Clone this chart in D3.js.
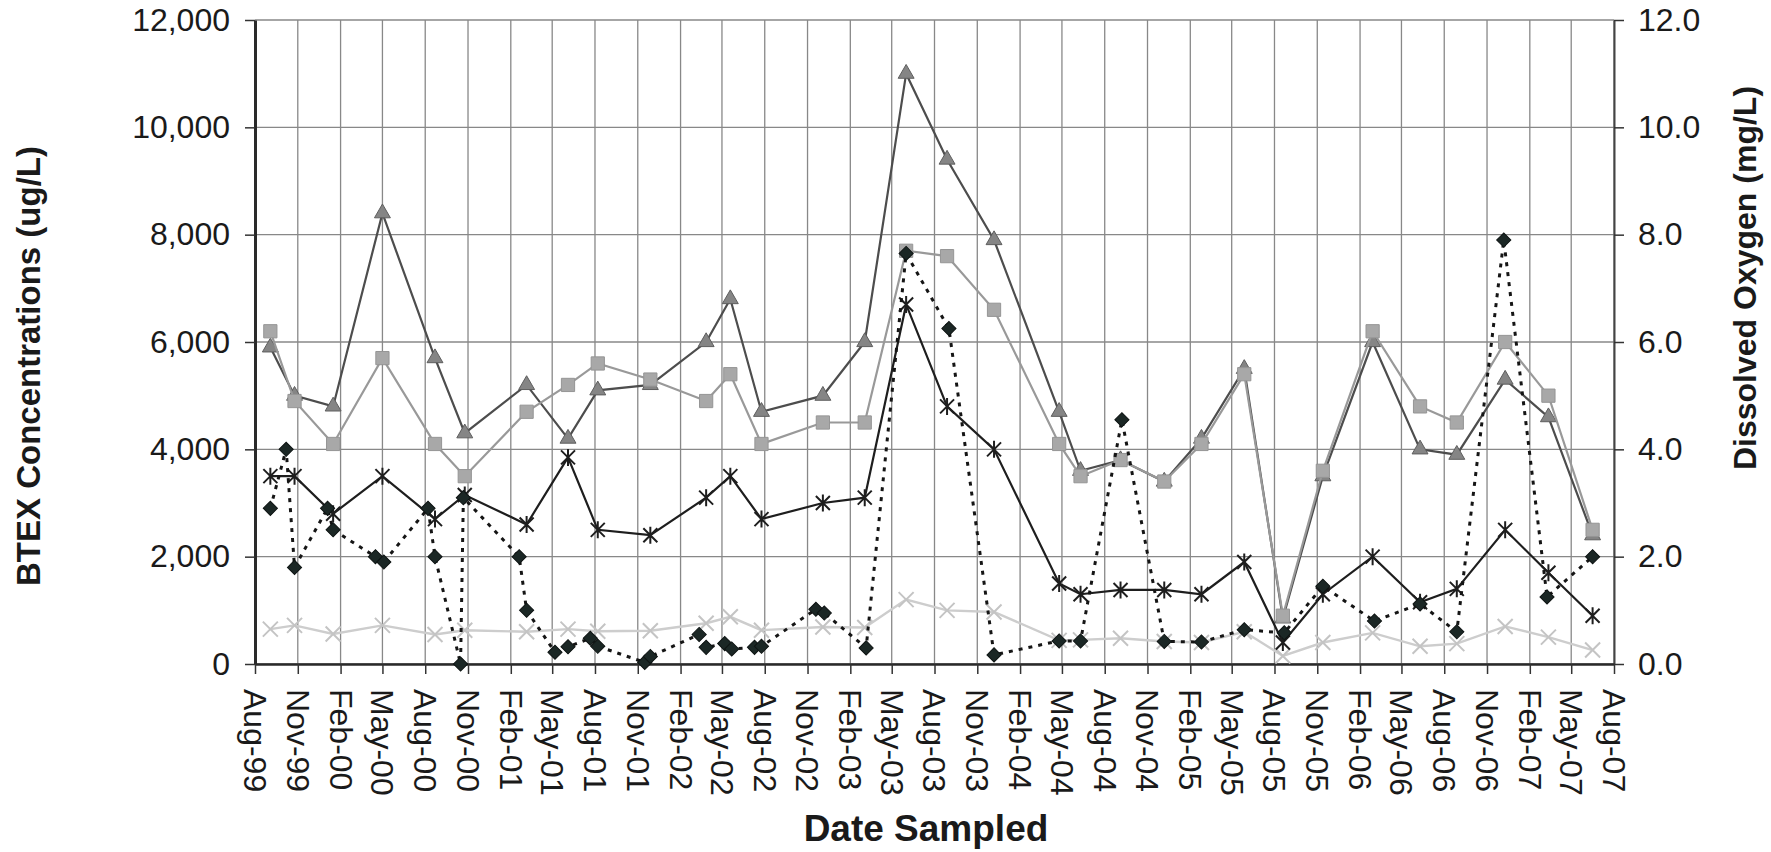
<!DOCTYPE html>
<html>
<head>
<meta charset="utf-8">
<script src="https://cdn.jsdelivr.net/npm/d3@7"></script>
<style>
  body { margin: 0; background: #fff; }
  svg { display: block; font-family: Arial, "Liberation Sans", sans-serif; }
</style>
</head>
<body>
<svg width="1771" height="852"></svg>
<script>
// sampling events for the four BTEX wells
const btexDates = [
    "1999-09-03", "1999-10-25", "2000-01-16", "2000-05-01", "2000-08-22", "2000-10-25",
    "2001-03-07", "2001-06-04", "2001-08-07", "2001-11-28", "2002-03-28", "2002-05-19",
    "2002-07-25", "2002-12-04", "2003-03-04", "2003-06-01", "2003-08-28", "2003-12-07",
    "2004-04-25", "2004-06-10", "2004-09-04", "2004-12-07", "2005-02-25", "2005-05-28",
    "2005-08-19", "2005-11-13", "2006-02-28", "2006-06-10", "2006-08-28", "2006-12-10",
    "2007-03-13", "2007-06-16"
];
const triangleValues = [
    5900, 5000, 4800, 8400, 5700, 4300, 5200, 4200, 5100, 5200, 6000, 6800,
    4700, 5000, 6000, 11000, 9400, 7900, 4700, 3600, 3800, 3400, 4200, 5500,
    850, 3500, 6000, 4000, 3900, 5300, 4600, 2400
];
const squareValues = [
    6200, 4900, 4100, 5700, 4100, 3500, 4700, 5200, 5600, 5300, 4900, 5400,
    4100, 4500, 4500, 7700, 7600, 6600, 4100, 3500, 3800, 3400, 4100, 5400,
    900, 3600, 6200, 4800, 4500, 6000, 5000, 2500
];
const starValues = [
    3500, 3500, 2800, 3500, 2700, 3150, 2600, 3850, 2500, 2400, 3100, 3500,
    2700, 3000, 3100, 6700, 4800, 4000, 1500, 1300, 1380, 1380, 1300, 1900,
    400, 1300, 2000, 1150, 1400, 2500, 1700, 900
];
const crossValues = [
    650, 720, 560, 720, 550, 630, 600, 650, 610, 620, 760, 880,
    630, 690, 680, 1200, 1000, 970, 440, 450, 480, 420, 400, 600,
    150, 400, 580, 330, 380, 700, 500, 260
];

// dissolved oxygen (right axis)
const doDates = [
    "1999-09-03", "1999-10-07", "1999-10-25", "2000-01-04", "2000-01-16", "2000-04-16",
    "2000-05-04", "2000-08-07", "2000-08-22", "2000-10-16", "2000-10-22", "2001-02-19",
    "2001-03-07", "2001-05-07", "2001-06-04", "2001-07-22", "2001-08-07", "2001-11-16",
    "2001-11-28", "2002-03-13", "2002-03-28", "2002-05-07", "2002-05-22", "2002-07-10",
    "2002-07-25", "2002-11-19", "2002-12-07", "2003-03-07", "2003-06-01", "2003-09-01",
    "2003-12-07", "2004-04-25", "2004-06-10", "2004-09-07", "2004-12-07", "2005-02-25",
    "2005-05-28", "2005-08-22", "2005-11-13", "2006-03-04", "2006-06-10", "2006-08-28",
    "2006-12-07", "2007-03-10", "2007-06-16"
];
const doValues = [
    2.9, 4.0, 1.8, 2.9, 2.5, 2.0,
    1.9, 2.9, 2.0, 0.0, 3.1, 2.0,
    1.0, 0.22, 0.32, 0.48, 0.33, 0.03,
    0.14, 0.55, 0.31, 0.38, 0.28, 0.31,
    0.33, 1.02, 0.95, 0.30, 7.65, 6.25,
    0.17, 0.43, 0.43, 4.55, 0.42, 0.41,
    0.64, 0.58, 1.45, 0.80, 1.12, 0.60,
    7.90, 1.25, 2.00
];

const btexTicks = [0, 2000, 4000, 6000, 8000, 10000, 12000];
const doTicks = [0, 2, 4, 6, 8, 10, 12];
const dateStart = "1999-08-01";
const dateEnd = "2007-08-01";

const parse = d3.timeParse("%Y-%m-%d");

const svg = d3.select("svg");
const plotLeft = 255, plotRight = 1614, plotTop = 20, plotBottom = 664;

const x = d3.scaleTime()
    .domain([parse(dateStart), parse(dateEnd)])
    .range([plotLeft, plotRight]);
const yL = d3.scaleLinear().domain([0, 12000]).range([plotBottom, plotTop]);
const yR = d3.scaleLinear().domain([0, 12]).range([plotBottom, plotTop]);

const tickDates = d3.timeMonth.range(parse(dateStart), d3.timeDay.offset(parse(dateEnd), 1), 3);

// grid
const grid = svg.append("g").attr("stroke", "#888").attr("stroke-width", 1.3);
grid.selectAll(".h").data(btexTicks).enter().append("line")
    .attr("x1", plotLeft).attr("x2", plotRight)
    .attr("y1", d => yL(d)).attr("y2", d => yL(d));
grid.selectAll(".v").data(tickDates).enter().append("line")
    .attr("x1", d => x(d)).attr("x2", d => x(d))
    .attr("y1", plotTop).attr("y2", plotBottom);

// axes
const axisLeft = svg.append("g")
    .attr("transform", `translate(${plotLeft},0)`)
    .call(d3.axisLeft(yL).tickValues(btexTicks).tickFormat(d3.format(",")).tickSize(10).tickSizeOuter(0).tickPadding(15));
const axisRight = svg.append("g")
    .attr("transform", `translate(${plotRight},0)`)
    .call(d3.axisRight(yR).tickValues(doTicks).tickFormat(d3.format(".1f")).tickSize(10).tickSizeOuter(0).tickPadding(14));
const axisBottom = svg.append("g")
    .attr("transform", `translate(0,${plotBottom})`)
    .call(d3.axisBottom(x).tickValues(tickDates).tickFormat(d3.timeFormat("%b-%y")).tickSize(10).tickSizeOuter(0));

axisBottom.selectAll("text")
    .attr("transform", "rotate(90)")
    .attr("x", 25)
    .attr("y", 0)
    .attr("dy", "0.36em")
    .attr("text-anchor", "start");

[axisLeft, axisRight, axisBottom].forEach(a => {
    a.selectAll("text").attr("font-size", 32).attr("fill", "#1a1a1a").attr("font-family", "Arial, 'Liberation Sans', sans-serif");
    a.selectAll("line").attr("stroke", "#333").attr("stroke-width", 1.5);
});
axisLeft.select(".domain").attr("stroke", "#2a2a2a").attr("stroke-width", 3);
axisRight.select(".domain").attr("stroke", "#444").attr("stroke-width", 2);
axisBottom.select(".domain").attr("stroke", "#2a2a2a").attr("stroke-width", 2.5);

// series
const btex = btexDates.map(parse);
const lineL = d3.line().x(d => x(d.date)).y(d => yL(d.value));

function addSeries(values, lineColor, lineWidth) {
    const data = values.map((v, i) => ({date: btex[i], value: v}));
    svg.append("path").datum(data)
        .attr("fill", "none")
        .attr("stroke", lineColor)
        .attr("stroke-width", lineWidth)
        .attr("d", lineL);
    return data;
}

const crossData = addSeries(crossValues, "#cdcdcd", 2.4);
svg.append("g").selectAll("path").data(crossData).enter().append("path")
    .attr("transform", d => `translate(${x(d.date)},${yL(d.value)})`)
    .attr("d", "M-7.5,-7.5L7.5,7.5M-7.5,7.5L7.5,-7.5")
    .attr("stroke", "#c4c4c4").attr("stroke-width", 2).attr("fill", "none");

const triData = addSeries(triangleValues, "#4d4d4d", 2.2);
svg.append("g").selectAll("path").data(triData).enter().append("path")
    .attr("transform", d => `translate(${x(d.date)},${yL(d.value)})`)
    .attr("d", d3.symbol(d3.symbolTriangle, 110))
    .attr("fill", "#858585").attr("stroke", "#5e5e5e").attr("stroke-width", 1);

const sqData = addSeries(squareValues, "#999999", 2.2);
svg.append("g").selectAll("path").data(sqData).enter().append("path")
    .attr("transform", d => `translate(${x(d.date)},${yL(d.value)})`)
    .attr("d", d3.symbol(d3.symbolSquare, 175))
    .attr("fill", "#a8a8a8").attr("stroke", "#959595").attr("stroke-width", 1);

const starData = addSeries(starValues, "#1e1e1e", 2.2);
svg.append("g").selectAll("path").data(starData).enter().append("path")
    .attr("transform", d => `translate(${x(d.date)},${yL(d.value)})`)
    .attr("d", "M-7,-7L7,7M-7,7L7,-7M0,-8.5L0,8.5")
    .attr("stroke", "#1e1e1e").attr("stroke-width", 2).attr("fill", "none");

// dissolved oxygen, dotted
const doData = doValues.map((v, i) => ({date: parse(doDates[i]), value: v}));
svg.append("path").datum(doData)
    .attr("fill", "none")
    .attr("stroke", "#151515")
    .attr("stroke-width", 3)
    .attr("stroke-dasharray", "4,6")
    .attr("d", d3.line().x(d => x(d.date)).y(d => yR(d.value)));
svg.append("g").selectAll("path").data(doData).enter().append("path")
    .attr("transform", d => `translate(${x(d.date)},${yR(d.value)}) rotate(45)`)
    .attr("d", d3.symbol(d3.symbolSquare, 100))
    .attr("fill", "#1b2725").attr("stroke", "#0e1413").attr("stroke-width", 1);

// titles
svg.append("text")
    .attr("transform", "translate(40,366) rotate(-90)")
    .attr("text-anchor", "middle")
    .attr("font-size", 33).attr("font-weight", "bold").attr("fill", "#1a1a1a")
    .text("BTEX Concentrations (ug/L)");
svg.append("text")
    .attr("transform", "translate(1756,278) rotate(-90)")
    .attr("text-anchor", "middle")
    .attr("font-size", 32).attr("font-weight", "bold").attr("fill", "#1a1a1a")
    .text("Dissolved Oxygen (mg/L)");
svg.append("text")
    .attr("x", 926).attr("y", 841)
    .attr("text-anchor", "middle")
    .attr("font-size", 37).attr("font-weight", "bold").attr("fill", "#1a1a1a")
    .text("Date Sampled");
</script>
</body>
</html>
